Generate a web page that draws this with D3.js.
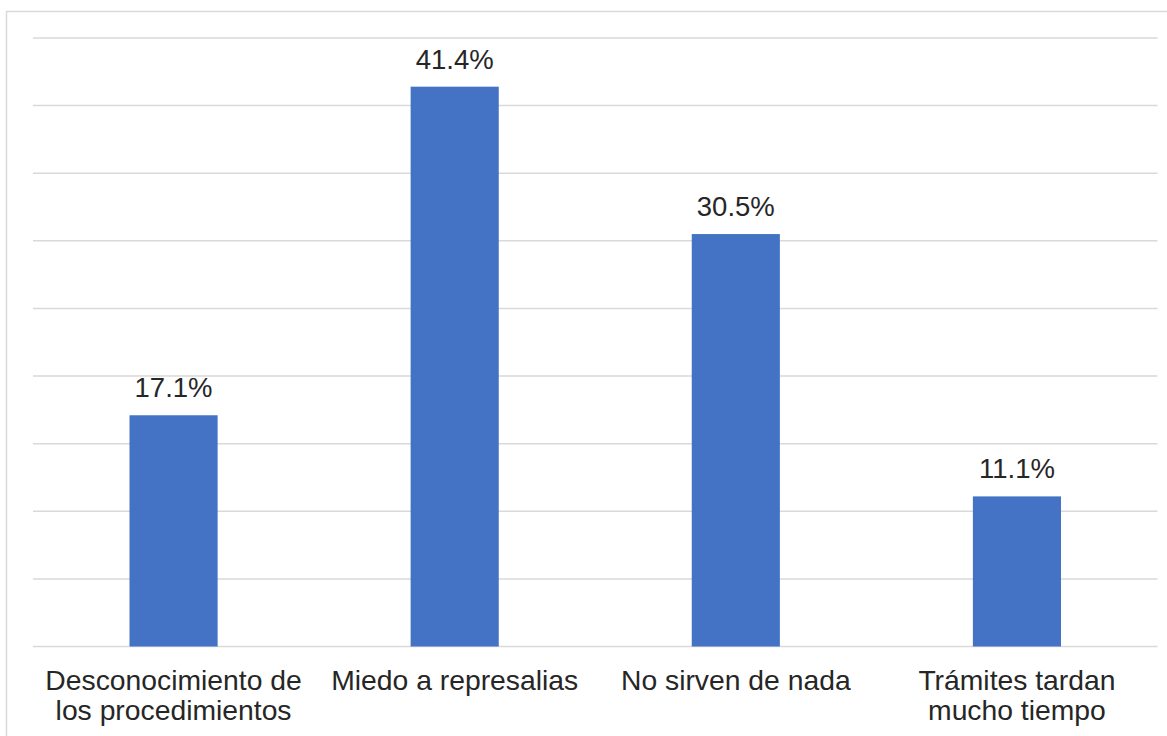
<!DOCTYPE html>
<html><head><meta charset="utf-8">
<script src="https://cdn.jsdelivr.net/npm/d3@7"></script>
<style>body{margin:0;background:#fff}svg{display:block}</style>
</head><body>
<svg id="c" width="1167" height="736"></svg>
<script>
const categories = [["Desconocimiento de","los procedimientos"],["Miedo a represalias"],["No sirven de nada"],["Trámites tardan","mucho tiempo"]];
const values = [17.1, 41.4, 30.5, 11.1];
const yTicks = [0,5,10,15,20,25,30,35,40,45];

const svg = d3.select("#c");
const x = d3.scaleBand().domain(d3.range(categories.length)).range([33, 1157.5]).paddingInner(0).paddingOuter(0);
const y = d3.scaleLinear().domain([0,45]).range([646.5, 38]);
const font = "'Liberation Sans', Arial, sans-serif";

svg.append("rect").attr("x",6.5).attr("y",11.5).attr("width",1200).attr("height",800)
  .attr("fill","#fff").attr("stroke","#d9d9d9").attr("stroke-width",1.5);

svg.append("g").selectAll("line").data(yTicks).join("line")
  .attr("x1",33).attr("x2",1157.5)
  .attr("y1",d=>y(d)).attr("y2",d=>y(d))
  .attr("stroke","#d9d9d9").attr("stroke-width",1.5);

const bw = x.bandwidth()/3.19;
svg.append("g").selectAll("rect").data(values).join("rect")
  .attr("x",(d,i)=>x(i)+x.bandwidth()/2-bw/2)
  .attr("width",bw)
  .attr("y",d=>y(d))
  .attr("height",d=>y(0)-y(d))
  .attr("fill","#4472C4");

svg.append("g").selectAll("text").data(values).join("text")
  .attr("x",(d,i)=>x(i)+x.bandwidth()/2)
  .attr("y",d=>y(d)-18)
  .attr("text-anchor","middle")
  .attr("font-family",font).attr("font-size",27.5).attr("fill","#262626")
  .text(d=>d.toFixed(1)+"%");

const lab = svg.append("g").selectAll("text").data(categories).join("text")
  .attr("x",(d,i)=>x(i)+x.bandwidth()/2)
  .attr("y",689.5)
  .attr("text-anchor","middle")
  .attr("font-family",font).attr("font-size",28.3).attr("fill","#262626");
lab.selectAll("tspan").data(d=>d).join("tspan")
  .attr("x",function(){return this.parentNode.getAttribute("x");})
  .attr("dy",(d,i)=>i?30:0)
  .text(d=>d);
</script>
</body></html>
